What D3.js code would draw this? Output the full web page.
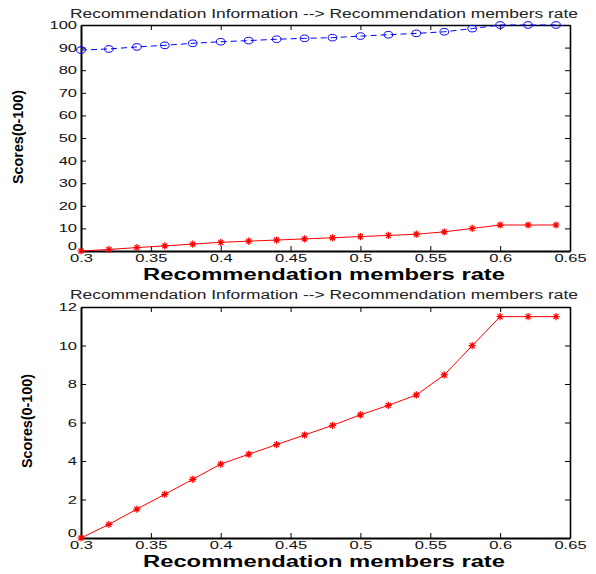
<!DOCTYPE html>
<html>
<head>
<meta charset="utf-8">
<script src="https://cdn.jsdelivr.net/npm/d3@7"></script>
<style>
  body { margin: 0; background: #fff; }
  svg { display: block; }
  text { font-family: "Liberation Sans", Arial, Helvetica, sans-serif; }
</style>
</head>
<body>
<script>
// ---------- data ----------
const rates = [0.30, 0.32, 0.34, 0.36, 0.38, 0.40, 0.42, 0.44, 0.46, 0.48, 0.50, 0.52, 0.54, 0.56, 0.58, 0.60, 0.62, 0.64];
const infoScores = [88.9, 89.4, 90.3, 91.0, 91.9, 92.6, 93.1, 93.7, 94.1, 94.4, 95.1, 95.7, 96.3, 97.0, 98.4, 100, 100, 100];
const memberScores = [0, 0.71, 1.5, 2.27, 3.05, 3.84, 4.35, 4.85, 5.35, 5.85, 6.4, 6.89, 7.43, 8.47, 9.99, 11.5, 11.5, 11.5];
const xTicks = [0.30, 0.35, 0.40, 0.45, 0.50, 0.55, 0.60, 0.65];
const xTickLabels = ["0.3", "0.35", "0.4", "0.45", "0.5", "0.55", "0.6", "0.65"];
const yTicksTop = [0, 10, 20, 30, 40, 50, 60, 70, 80, 90, 100];
const yTicksBottom = [0, 2, 4, 6, 8, 10, 12];
const titleText = "Recommendation Information --> Recommendation members rate";
const xLabelText = "Recommendation members rate";
const yLabelText = "Scores(0-100)";

// ---------- drawing ----------
const W = 596, H = 574;
const svg = d3.select("body").append("svg").attr("width", W).attr("height", H);

const left = 81, right = 570;
const x = d3.scaleLinear().domain([0.30, 0.65]).range([left, right]);
const SX = 1.5; // horizontal text stretch seen in the reference

function asteriskPath(s) {
  const a = s * 0.7;
  return `M${-s},0L${s},0M0,${-s}L0,${s}M${-a},${-a}L${a},${a}M${-a},${a}L${a},${-a}`;
}

function panel(opts) {
  const y = d3.scaleLinear().domain(opts.yDomain).range([opts.bottom, opts.top]);
  const g = svg.append("g");

  // title
  g.append("text")
    .attr("x", 324).attr("y", opts.titleY)
    .attr("text-anchor", "middle")
    .attr("font-size", 12).attr("fill", "#222")
    .attr("textLength", 508).attr("lengthAdjust", "spacingAndGlyphs")
    .text(titleText);

  // axes
  const ax = g.append("g").attr("transform", `translate(0,${opts.bottom})`)
    .call(d3.axisBottom(x).tickValues(xTicks).tickFormat((d, i) => xTickLabels[i])
      .tickSizeInner(-5).tickSizeOuter(0).tickPadding(4));
  const ay = g.append("g").attr("transform", `translate(${left},0)`)
    .call(d3.axisLeft(y).tickValues(opts.yTicks).tickFormat(d => String(d))
      .tickSizeInner(-5).tickSizeOuter(0).tickPadding(4));
  const at = g.append("g").attr("transform", `translate(0,${opts.top})`)
    .call(d3.axisTop(x).tickValues(xTicks).tickFormat("")
      .tickSizeInner(-5).tickSizeOuter(0));
  const ar = g.append("g").attr("transform", `translate(${right},0)`)
    .call(d3.axisRight(y).tickValues(opts.yTicks).tickFormat("")
      .tickSizeInner(-5).tickSizeOuter(0));

  [ax, ay, at, ar].forEach(a => {
    a.select(".domain").attr("stroke", "#000").attr("stroke-width", 1.6);
    a.selectAll(".tick line").attr("stroke", "#000").attr("stroke-width", 1);
    a.selectAll("text").attr("font-size", 11).attr("fill", "#111")
      .attr("font-family", "'Liberation Sans', Arial, sans-serif");
  });
  ax.select(".domain").attr("stroke-width", 2);
  ay.select(".domain").attr("stroke-width", 2);
  ax.selectAll(".tick text").attr("transform", `scale(${SX},1)`).attr("y", 3).attr("dy", "0.75em");
  ay.selectAll(".tick text").attr("transform", `scale(${SX},1)`).attr("x", -4 / SX)
    .attr("dy", d => d === 0 ? "-0.1em" : "0.32em");

  // labels
  g.append("text")
    .attr("x", 324).attr("y", opts.xLabelY)
    .attr("text-anchor", "middle")
    .attr("font-size", 16).attr("font-weight", "bold").attr("fill", "#000")
    .attr("textLength", 362).attr("lengthAdjust", "spacingAndGlyphs")
    .text(xLabelText);
  g.append("text")
    .attr("transform", `translate(${opts.yLabelX},${opts.yLabelCY}) rotate(-90)`)
    .attr("text-anchor", "middle")
    .attr("font-size", 14).attr("font-weight", "bold").attr("fill", "#000")
    .attr("textLength", 94).attr("lengthAdjust", "spacingAndGlyphs")
    .text(yLabelText);

  // series
  opts.series.forEach(s => {
    const pts = rates.map((r, i) => [r, s.values[i]]);
    const line = d3.line().x(d => x(d[0])).y(d => y(d[1]));
    g.append("path").datum(pts)
      .attr("d", line).attr("fill", "none")
      .attr("stroke", s.color).attr("stroke-width", 1)
      .attr("stroke-dasharray", s.dash || null);
    if (s.marker === "circle") {
      g.selectAll(null).data(pts).enter().append("ellipse")
        .attr("cx", d => x(d[0])).attr("cy", d => y(d[1]))
        .attr("rx", 4.3).attr("ry", 3.3)
        .attr("fill", "none").attr("stroke", s.color).attr("stroke-width", 1);
    } else {
      g.selectAll(null).data(pts).enter().append("path")
        .attr("transform", d => `translate(${x(d[0])},${y(d[1])})`)
        .attr("d", asteriskPath(3.6))
        .attr("fill", "none").attr("stroke", s.color).attr("stroke-width", 1.2);
    }
  });
}

panel({
  top: 25, bottom: 251, yDomain: [0, 100], yTicks: yTicksTop,
  titleY: 18, xLabelY: 280, yLabelX: 23, yLabelCY: 137,
  series: [
    { values: infoScores, color: "#0000ff", dash: "6,4", marker: "circle" },
    { values: memberScores, color: "#ff0000", marker: "asterisk" }
  ]
});

panel({
  top: 307, bottom: 538, yDomain: [0, 12], yTicks: yTicksBottom,
  titleY: 299, xLabelY: 567, yLabelX: 32, yLabelCY: 421,
  series: [
    { values: memberScores, color: "#ff0000", marker: "asterisk" }
  ]
});
</script>
</body>
</html>
